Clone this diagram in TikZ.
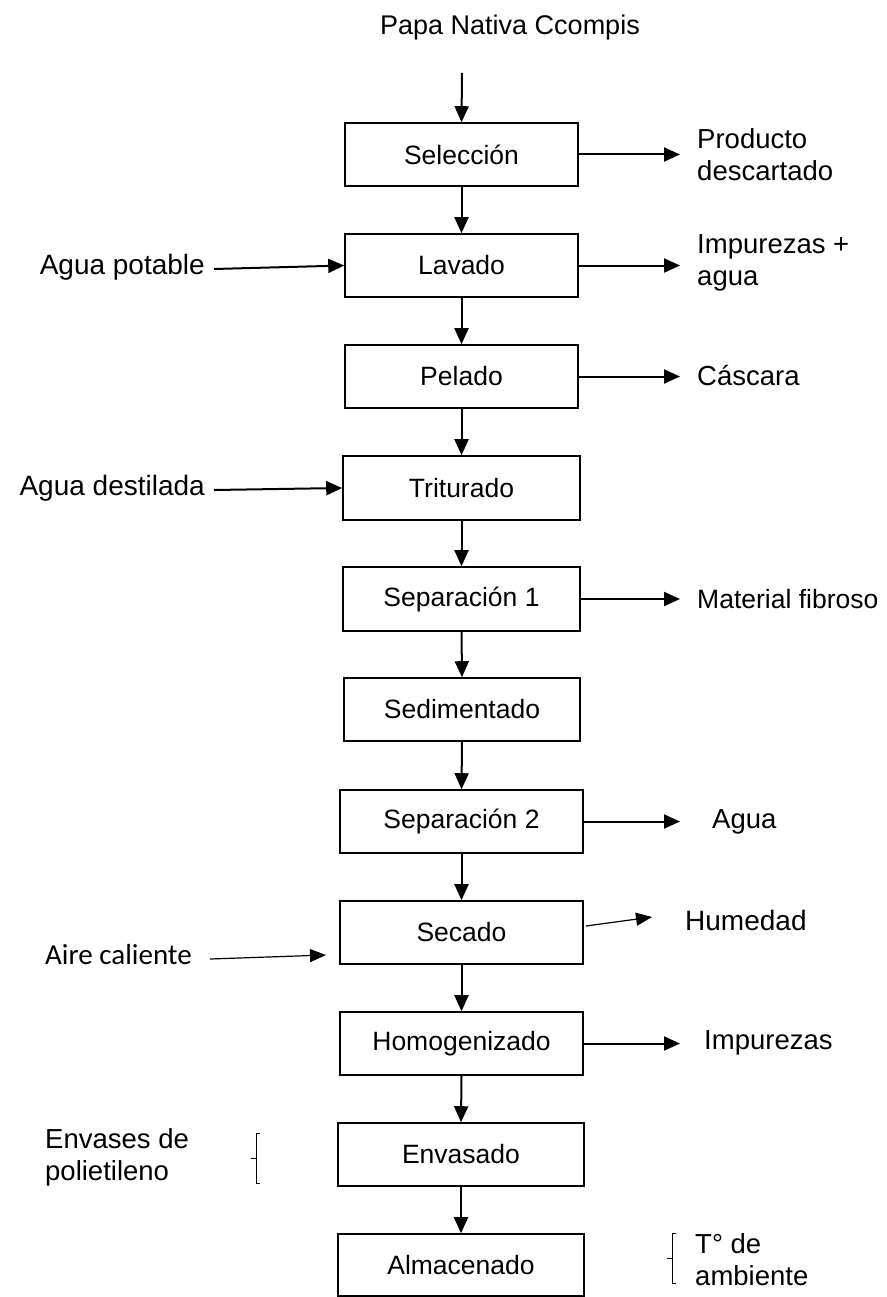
\documentclass[tikz,border=0pt]{standalone}
\usepackage{fontspec}
\setmainfont{Liberation Sans}
\newfontfamily\calibrifont{Carlito}
\usetikzlibrary{arrows.meta}
\begin{document}
\begin{tikzpicture}[x=1pt,y=-1pt,
  box/.style={draw, line width=1.6pt, inner sep=0pt, font=\fontsize{26.5}{31}\selectfont},
  lbl/.style={inner sep=0pt, align=left, font=\fontsize{27.5}{32}\selectfont},
  biglbl/.style={lbl, font=\fontsize{28}{33}\selectfont},
  flow/.style={line width=2pt, -{Triangle[length=16pt,width=14pt]}},
  thinflow/.style={line width=1.2pt, -{Triangle[length=16pt,width=13pt]}},
  brace/.style={line width=0.9pt},
]
\useasboundingbox (0,0) rectangle (886,1297);

% title
\node[lbl, font=\fontsize{27}{32}\selectfont] (title) at (510,28) {Papa Nativa Ccompis};

% process boxes
\node[box, minimum width=233pt, minimum height=63pt] (sel) at (461.5,154.5) {Selección};
\node[box, minimum width=233pt, minimum height=63pt] (lav) at (461.5,265.5) {Lavado};
\node[box, minimum width=233pt, minimum height=63pt] (pel) at (461.5,376.5) {Pelado};
\node[box, minimum width=237pt, minimum height=64pt] (tri) at (461.5,488) {Triturado};
\node[box, minimum width=237pt, minimum height=64pt] (sep1) at (461.5,599) {Separación 1};
\node[box, minimum width=236pt, minimum height=63pt] (sed) at (462,709.5) {Sedimentado};
\node[box, minimum width=243pt, minimum height=63pt] (sep2) at (461.5,821.5) {Separación 2};
\node[box, minimum width=243pt, minimum height=63pt] (sec) at (461.5,932.5) {Secado};
\node[box, minimum width=243pt, minimum height=63pt] (hom) at (461.5,1043.5) {Homogenizado};
\node[box, minimum width=246pt, minimum height=63pt] (env) at (461,1154.5) {Envasado};
\node[box, minimum width=246pt, minimum height=62pt] (alm) at (461,1265) {Almacenado};

% main flow
\coordinate (start) at (462,73);
\draw[flow] (start) -- (sel.north);
\draw[flow] (sel.south) -- (lav.north);
\draw[flow] (lav.south) -- (pel.north);
\draw[flow] (pel.south) -- (tri.north);
\draw[flow] (tri.south) -- (sep1.north);
\draw[flow] (sep1.south) -- (sed.north);
\draw[flow] (sed.south) -- (sep2.north);
\draw[flow] (sep2.south) -- (sec.north);
\draw[flow] (sec.south) -- (hom.north);
\draw[flow] (hom.south) -- (env.north);
\draw[flow] (env.south) -- (alm.north);

% outputs (right)
\node[lbl, anchor=west] (prod) at (697,155) {Producto\\descartado};
\node[lbl, anchor=west] (impag) at (697,263) {Impurezas +\\agua};
\node[lbl, anchor=west] (casc) at (697,376) {Cáscara};
\node[lbl, anchor=west, font=\fontsize{26.5}{32}\selectfont] (fib) at (697,599) {Material fibroso};
\node[lbl, anchor=west] (agua) at (712,822) {Agua};
\node[lbl, anchor=west, font=\fontsize{28}{32}\selectfont] (hum) at (685,920) {Humedad};
\node[lbl, anchor=west] (imp) at (704,1043) {Impurezas};
\node[lbl, anchor=west] (temp) at (695,1260) {T° de\\ambiente};

\coordinate (selo) at (680,154.5);
\coordinate (lavo) at (680,265.5);
\coordinate (pelo) at (680,376.5);
\coordinate (sep1o) at (680,599);
\coordinate (sep2o) at (680,821.5);
\coordinate (seci) at (586,926);
\coordinate (seco) at (652,917);
\coordinate (homo) at (680,1043.5);
\draw[flow] (sel.east) -- (selo);
\draw[flow] (lav.east) -- (lavo);
\draw[flow] (pel.east) -- (pelo);
\draw[flow] (sep1.east) -- (sep1o);
\draw[flow] (sep2.east) -- (sep2o);
\draw[thinflow] (seci) -- (seco);
\draw[flow] (hom.east) -- (homo);

% inputs (left)
\node[biglbl, anchor=east] (apot) at (205,267) {Agua potable};
\node[biglbl, anchor=east] (adest) at (205,488) {Agua destilada};
\node[lbl, anchor=east, font=\calibrifont\fontsize{29}{34}\selectfont] (aire) at (192,955) {Aire caliente};
\node[lbl, anchor=west] (envs) at (45,1157) {Envases de\\polietileno};

\coordinate (apoti) at (214,269);
\coordinate (adesti) at (214,490);
\coordinate (airei) at (210,959);
\coordinate (airee) at (326,955);
\draw[flow] (apoti) -- (lav.west);
\draw[flow] (adesti) -- (tri.west);
\draw[thinflow] (airei) -- (airee);

% braces
\draw[brace] (260,1133) -- (256,1133) -- (256,1183) -- (260,1183);
\draw[brace] (256,1158) -- (251,1158);
\draw[brace] (676,1233) -- (672,1233) -- (672,1283) -- (676,1283);
\draw[brace] (672,1258) -- (667,1258);
\end{tikzpicture}
\end{document}
